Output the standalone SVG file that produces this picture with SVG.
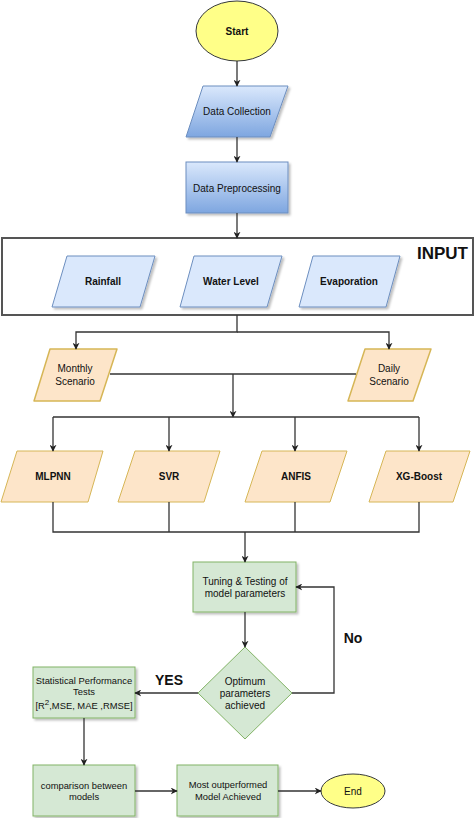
<svg xmlns="http://www.w3.org/2000/svg" width="474" height="818" viewBox="0 0 474 818">
<defs>
<linearGradient id="blueGrad" x1="0" y1="0" x2="0" y2="1">
<stop offset="0" stop-color="#dae8fc"/>
<stop offset="1" stop-color="#7ea6e0"/>
</linearGradient>
<filter id="shadow" x="-10%" y="-10%" width="130%" height="140%">
<feDropShadow dx="2" dy="2" stdDeviation="1" flood-color="#000" flood-opacity="0.25"/>
</filter>
<marker id="arrow" viewBox="0 0 10 10" refX="9" refY="5" markerWidth="7" markerHeight="7" orient="auto" markerUnits="userSpaceOnUse">
<path d="M0,0 L10,5 L0,10 L3,5 Z" fill="#222"/>
</marker>
</defs>
<style>
text { font-family: "Liberation Sans", Arial, sans-serif; fill: #111; text-anchor: middle; }
.b { font-weight: bold; }
.t10 { font-size: 10px; }
.t9 { font-size: 9.4px; }
.big { font-size: 14px; font-weight: bold; }
.blue { fill: url(#blueGrad); stroke: #6c8ebf; stroke-width: 1; filter: url(#shadow); }
.lblue { fill: #dae8fc; stroke: #6c8ebf; stroke-width: 1; filter: url(#shadow); }
.orange { fill: #fde5c9; stroke: #d6b656; stroke-width: 1.5; stroke-linejoin: round; }
.orange2 { fill: #fde5c9; stroke: #d6b656; stroke-width: 1; }
.green { fill: #d5e8d4; stroke: #82b366; stroke-width: 1; filter: url(#shadow); }
.yellow { fill: #ffff88; stroke: #36393d; stroke-width: 1; }
.conn { fill: none; stroke: #333; stroke-width: 1.3; }
</style>

<g id="start">
<ellipse class="yellow" cx="237" cy="31" rx="41" ry="30"/>
<text class="b t10" x="237" y="35">Start</text>
</g>

<g id="data-collection">
<polygon class="blue" points="203,86 288,86 270,137 186,137"/>
<text class="t10" x="237" y="115">Data Collection</text>
</g>

<g id="data-preprocessing">
<rect class="blue" x="186" y="162" width="102" height="51"/>
<text class="t10" x="237" y="192">Data Preprocessing</text>
</g>

<g id="input">
<rect x="2" y="238" width="471" height="77" fill="#fff" stroke="#555" stroke-width="2"/>
<text class="b" x="468" y="259" style="font-size:17px;text-anchor:end">INPUT</text>
</g>

<g id="rainfall">
<polygon class="lblue" points="67,256 155,256 140,307 52,307"/>
<text class="b t10" x="103" y="285">Rainfall</text>
</g>

<g id="water-level">
<polygon class="lblue" points="194,256 282,256 267,307 180,307"/>
<text class="b t10" x="231" y="285">Water Level</text>
</g>

<g id="evaporation">
<polygon class="lblue" points="313,256 400,256 386,307 299,307"/>
<text class="b t10" x="349" y="285">Evaporation</text>
</g>

<g id="monthly-scenario">
<polygon class="orange" points="50,349 117,349 100,401 34,401"/>
<text class="t10" x="75" y="372">Monthly</text>
<text class="t10" x="75" y="385">Scenario</text>
</g>

<g id="daily-scenario">
<polygon class="orange" points="365,349 431,349 413,401 348,401"/>
<text class="t10" x="389" y="372">Daily</text>
<text class="t10" x="389" y="385">Scenario</text>
</g>

<g id="mlpnn">
<polygon class="orange2" points="17,451 103,451 88,502 1,502"/>
<text class="b t10" x="53" y="480">MLPNN</text>
</g>

<g id="svr">
<polygon class="orange2" points="135,451 220,451 204,502 118,502"/>
<text class="b t10" x="169" y="480">SVR</text>
</g>

<g id="anfis">
<polygon class="orange2" points="262,451 347,451 330,502 245,502"/>
<text class="b t10" x="296" y="480">ANFIS</text>
</g>

<g id="xgboost">
<polygon class="orange2" points="386,451 470,451 453,502 369,502"/>
<text class="b t10" x="419" y="480">XG-Boost</text>
</g>

<g id="tuning">
<rect class="green" x="193" y="562" width="103" height="50"/>
<text class="t10" x="245" y="585">Tuning &amp; Testing of</text>
<text class="t10" x="245" y="597">model parameters</text>
</g>

<g id="optimum">
<polygon points="245,647 292,693 245,739 198,693" fill="#d5e8d4" stroke="#82b366" stroke-width="1"/>
<text class="t10" x="245" y="685">Optimum</text>
<text class="t10" x="245" y="697">parameters</text>
<text class="t10" x="245" y="709">achieved</text>
</g>

<g id="statistical">
<rect class="green" x="33" y="667" width="102" height="51"/>
<text class="t9" x="84" y="684">Statistical Performance</text>
<text class="t9" x="84" y="695">Tests</text>
<text class="t9" x="84" y="709">[R<tspan dy="-4" style="font-size:8px">2</tspan><tspan dy="4">,MSE, MAE ,RMSE]</tspan></text>
</g>

<g id="comparison">
<rect class="green" x="33" y="765" width="102" height="51"/>
<text class="t9" x="84" y="789">comparison between</text>
<text class="t9" x="84" y="800">models</text>
</g>

<g id="most-outperformed">
<rect class="green" x="177" y="765" width="101" height="51"/>
<text class="t9" x="228" y="788">Most outperformed</text>
<text class="t9" x="228" y="800">Model Achieved</text>
</g>

<g id="end">
<ellipse class="yellow" cx="353" cy="791" rx="32" ry="17"/>
<text class="t10" x="353" y="795">End</text>
</g>

<g id="labels">
<text class="big" x="169" y="685">YES</text>
<text class="big" x="353" y="643">No</text>
</g>

<g id="connectors">
<path class="conn" d="M237,61 V86" marker-end="url(#arrow)"/>
<path class="conn" d="M237,137 V162" marker-end="url(#arrow)"/>
<path class="conn" d="M237,213 V238" marker-end="url(#arrow)"/>
<path class="conn" d="M237,315 V332 H76 V349" marker-end="url(#arrow)"/>
<path class="conn" d="M237,332 H389 V349" marker-end="url(#arrow)"/>
<path class="conn" d="M110,374 H356"/>
<path class="conn" d="M233,374 V417" marker-end="url(#arrow)"/>
<path class="conn" d="M53,417 H419"/>
<path class="conn" d="M53,417 V451" marker-end="url(#arrow)"/>
<path class="conn" d="M169,417 V451" marker-end="url(#arrow)"/>
<path class="conn" d="M295,417 V451" marker-end="url(#arrow)"/>
<path class="conn" d="M419,417 V451" marker-end="url(#arrow)"/>
<path class="conn" d="M53,502 V532 H419 V502"/>
<path class="conn" d="M169,502 V532"/>
<path class="conn" d="M295,502 V532"/>
<path class="conn" d="M245,532 V562" marker-end="url(#arrow)"/>
<path class="conn" d="M245,612 V647" marker-end="url(#arrow)"/>
<path class="conn" d="M292,693 H334 V587 H296" marker-end="url(#arrow)"/>
<path class="conn" d="M198,693 H135" marker-end="url(#arrow)"/>
<path class="conn" d="M84,718 V765" marker-end="url(#arrow)"/>
<path class="conn" d="M135,791 H177" marker-end="url(#arrow)"/>
<path class="conn" d="M278,791 H321" marker-end="url(#arrow)"/>
</g>
</svg>
